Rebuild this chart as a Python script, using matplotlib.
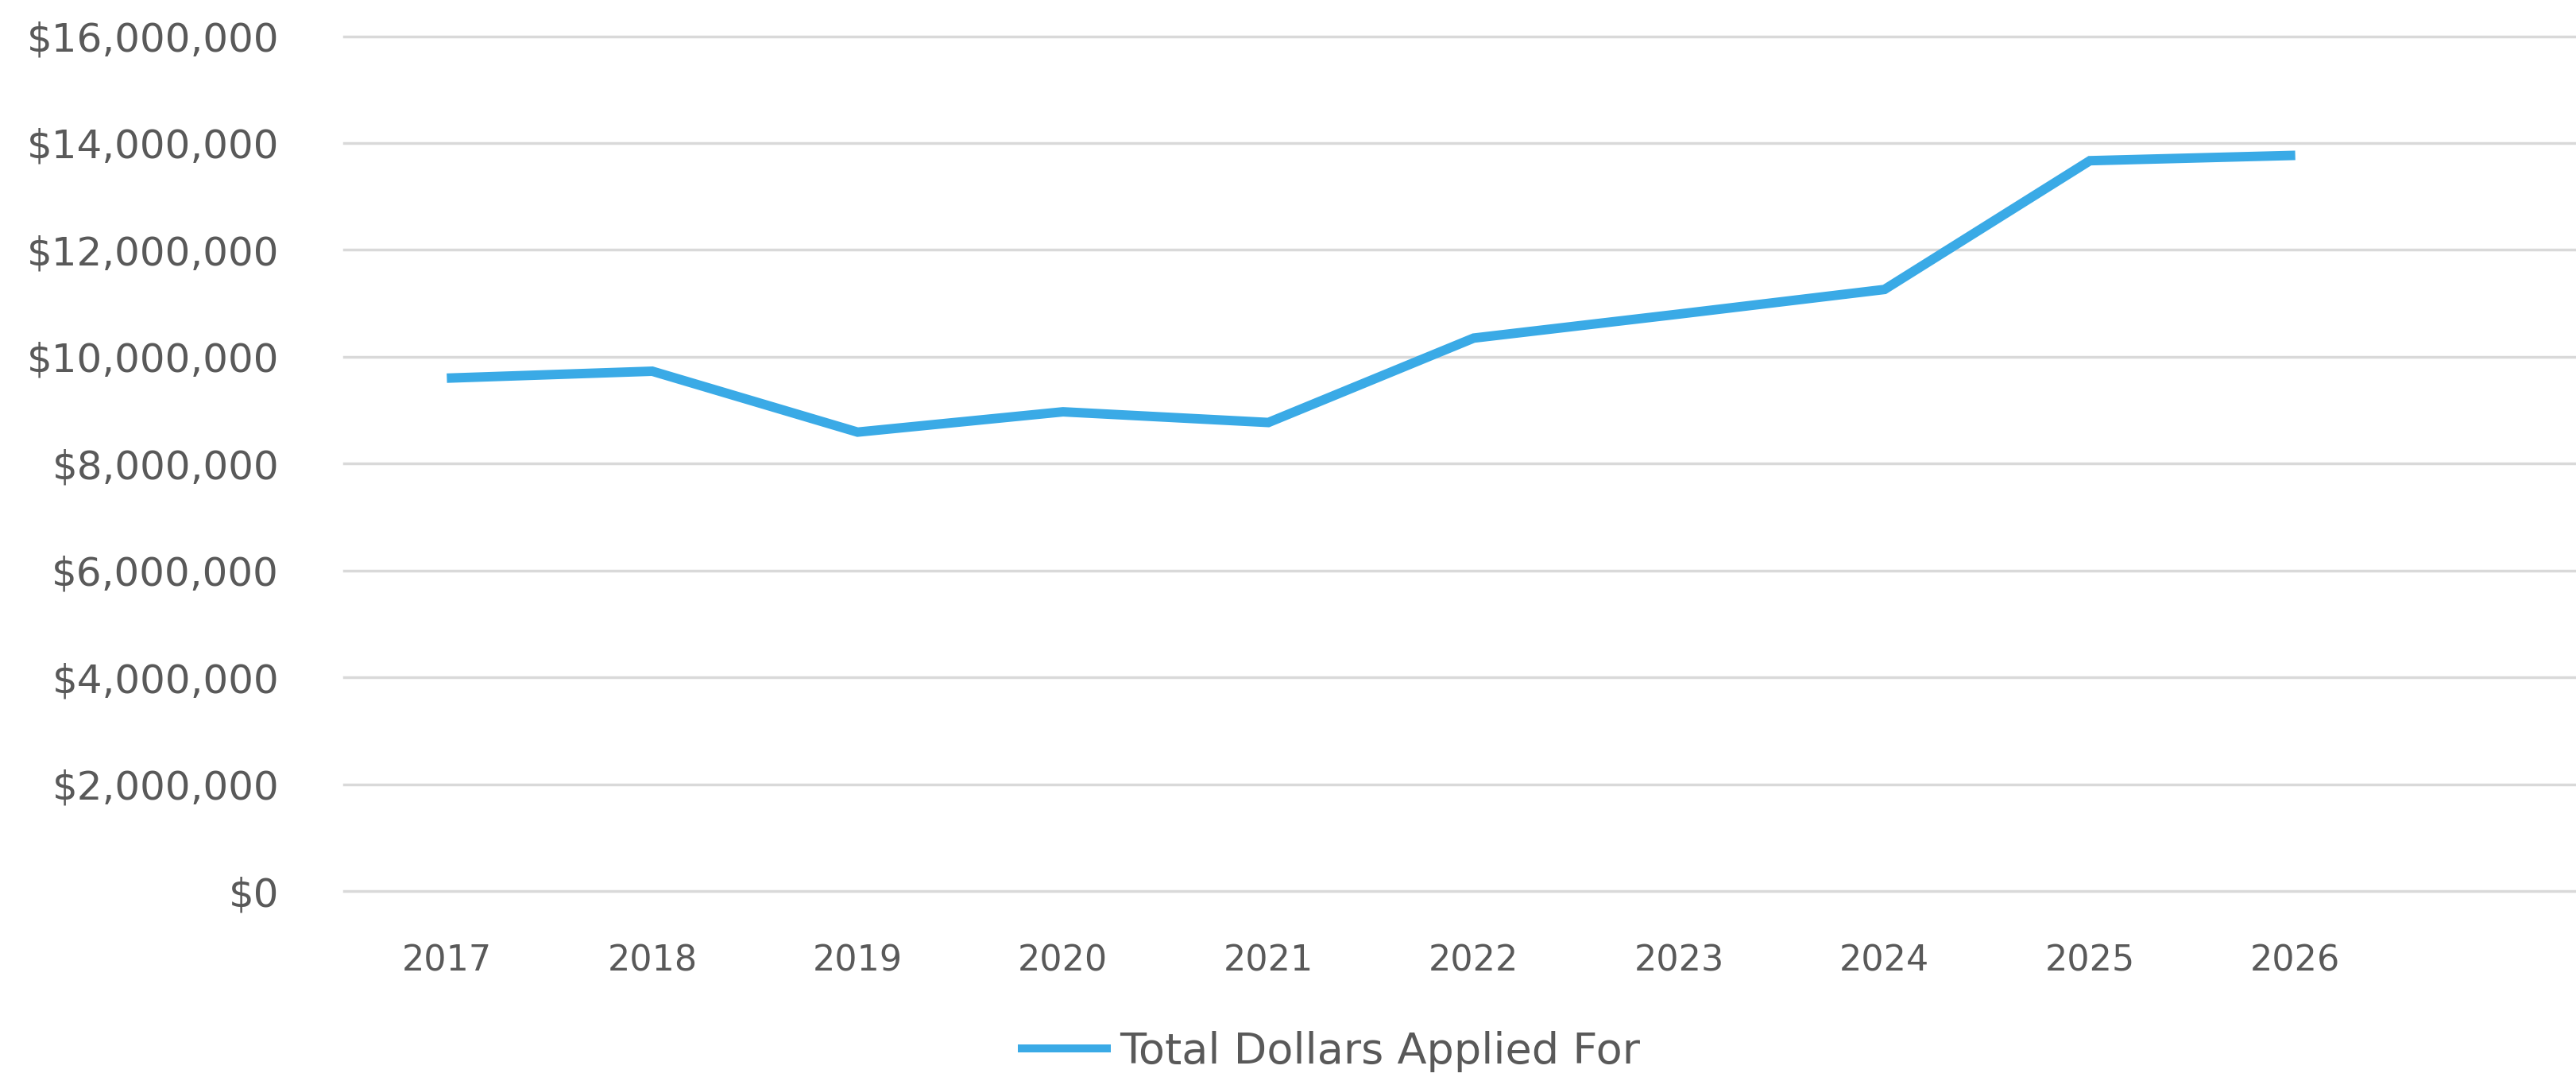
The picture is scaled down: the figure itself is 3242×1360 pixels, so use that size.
#!/usr/bin/env python3
"""Line chart: total dollars applied for, 2017-2026."""

import matplotlib
matplotlib.use("Agg")
import matplotlib.pyplot as plt
from matplotlib.ticker import FuncFormatter

# ── data ─────────────────────────────────────────────────────────────
years = ["2017", "2018", "2019", "2020", "2021",
         "2022", "2023", "2024", "2025", "2026"]
dollars = [9_600_000, 9_730_000, 8_590_000, 8_970_000, 8_770_000,
           10_350_000, 10_800_000, 11_260_000, 13_670_000, 13_770_000]
y_ticks = list(range(0, 16_000_001, 2_000_000))
series_label = "Total Dollars Applied For"

LINE_COLOR = "#3aaae6"
GRID_COLOR = "#d9d9d9"
TEXT_COLOR = "#595959"

# ── figure ───────────────────────────────────────────────────────────
fig = plt.figure(figsize=(32.42, 13.6), dpi=100)
# right edge runs past the figure: the reference is cut off on the right
ax = fig.add_axes([0.1336, 0.1757, 0.877, 0.7908])

x = list(range(len(years)))
ax.plot(x, dollars, color=LINE_COLOR, lw=8.6, solid_joinstyle="miter",
        solid_capstyle="butt", label=series_label, zorder=3)

ax.set_xlim(-0.5, 10.5)
ax.set_ylim(0, 16_000_000)
ax.set_xticks(x)
ax.set_xticklabels(years)
ax.set_yticks(y_ticks)
ax.yaxis.set_major_formatter(FuncFormatter(lambda v, _: f"${v:,.0f}"))

ax.grid(axis="y", color=GRID_COLOR, lw=2.5, zorder=0)
for gl in ax.get_ygridlines():
    gl.set_clip_on(False)
ax.set_axisbelow(True)
for s in ax.spines.values():
    s.set_visible(False)

ax.tick_params(axis="y", length=0, pad=59, labelsize=36, labelcolor=TEXT_COLOR)
ax.tick_params(axis="x", length=0, pad=48, labelsize=32, labelcolor=TEXT_COLOR)

leg = fig.legend(loc="center", bbox_to_anchor=(0.516, 0.027), frameon=False,
                 fontsize=39, handlelength=2.15, handletextpad=0.22,
                 labelcolor=TEXT_COLOR)
for h in leg.get_lines():
    h.set_linewidth(7.2)

fig.savefig("out.png", dpi=100)
plt.close(fig)
